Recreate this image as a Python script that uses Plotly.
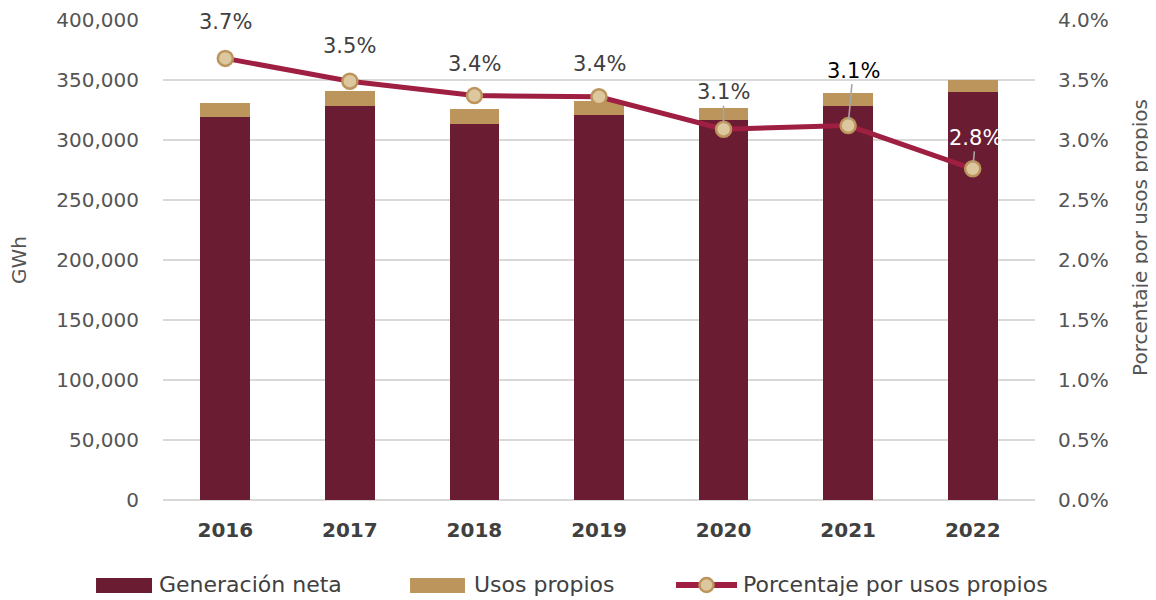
import plotly.graph_objects as go

# ---- data ----
years = ["2016", "2017", "2018", "2019", "2020", "2021", "2022"]
generacion_neta = [319000, 328600, 313600, 321000, 316700, 328000, 340000]
usos_propios = [12000, 12200, 12000, 11500, 10300, 11000, 10000]
porcentaje = [3.68, 3.49, 3.37, 3.36, 3.09, 3.12, 2.76]

series_names = ["Generación neta", "Usos propios", "Porcentaje por usos propios"]

# label styling (pixel offsets from marker, colours)
label_dx = [0, 0, 0, 0, 0, 5, 3]
label_dy = [-36, -35, -32, -33, -37, -55, -31]
label_arrow = [False, False, False, False, True, True, True]
label_color = ["#404040", "#404040", "#404040", "#404040", "#404040", "#000000", "#FFFFFF"]

FONT = "DejaVu Sans"
C_DARK = "#6A1C32"
C_TAN = "#BC955C"
C_LINE = "#9F1F42"
C_MARK = "#DDC79E"
C_TEXT = "#555555"

fig = go.Figure()
fig.add_trace(go.Bar(x=years, y=generacion_neta, name=series_names[0], showlegend=False,
                     marker=dict(color=C_DARK, line=dict(width=0))))
fig.add_trace(go.Bar(x=years, y=usos_propios, name=series_names[1], showlegend=False,
                     marker=dict(color=C_TAN, line=dict(width=0))))
fig.add_trace(go.Scatter(x=years, y=porcentaje, name=series_names[2], showlegend=False,
                         yaxis="y2", mode="lines+markers",
                         line=dict(color=C_LINE, width=5),
                         marker=dict(size=15, color=C_MARK,
                                     line=dict(color=C_TAN, width=2.5))))

annotations = []
for i, p in enumerate(porcentaje):
    txt = f"{p:.1f}%"
    if label_arrow[i]:
        annotations.append(dict(x=i, y=p, xref="x", yref="y2", text=txt,
                                showarrow=True, arrowhead=0, arrowwidth=1.6,
                                arrowcolor="#A6A6A6", ax=label_dx[i], ay=label_dy[i],
                                standoff=6,
                                font=dict(family=FONT, size=21, color=label_color[i])))
    else:
        annotations.append(dict(x=i, y=p, xref="x", yref="y2", text=txt,
                                showarrow=False, xshift=label_dx[i], yshift=-label_dy[i],
                                font=dict(family=FONT, size=21, color=label_color[i])))

# axis titles (as annotations, placed like the reference)
annotations.append(dict(x=-0.165, y=0.5, xref="paper", yref="paper", text="GWh",
                        textangle=-90, showarrow=False, xanchor="center", yanchor="middle",
                        font=dict(family=FONT, size=20, color=C_TEXT)))
annotations.append(dict(x=1.1204, y=0.548, xref="paper", yref="paper",
                        text="Porcentaje por usos propios", textangle=-90, showarrow=False,
                        xanchor="center", yanchor="middle",
                        font=dict(family=FONT, size=20, color=C_TEXT)))

# custom legend (wide swatches like the reference)
LEG_Y = -0.177
shapes = [
    dict(type="rect", xref="paper", yref="paper", x0=-0.0768, x1=-0.0126,
         y0=-0.19375, y1=-0.1625, fillcolor=C_DARK, line=dict(width=0)),
    dict(type="rect", xref="paper", yref="paper", x0=0.2833, x1=0.3463,
         y0=-0.19375, y1=-0.1625, fillcolor=C_TAN, line=dict(width=0)),
    dict(type="line", xref="paper", yref="paper", x0=0.5883, x1=0.6583,
         y0=LEG_Y, y1=LEG_Y, line=dict(color=C_LINE, width=6)),
    dict(type="circle", xref="paper", yref="paper", xsizemode="pixel", ysizemode="pixel",
         xanchor=0.6233, yanchor=LEG_Y, x0=-7, x1=7, y0=-7, y1=7,
         fillcolor=C_MARK, line=dict(color=C_TAN, width=2.5)),
]
for xpos, name in zip([-0.0069, 0.3544, 0.6628], series_names):
    annotations.append(dict(x=xpos, y=LEG_Y, xref="paper", yref="paper", text=name,
                            xanchor="left", yanchor="middle", showarrow=False,
                            font=dict(family=FONT, size=22, color="#404040")))

fig.update_layout(
    width=1156, height=600,
    # page body has an 8px margin: plot area lands at x 163-1035, y 20-500 on screen
    margin=dict(l=155, r=129, t=12, b=108, autoexpand=False),
    paper_bgcolor="white", plot_bgcolor="white",
    barmode="stack", bargap=0.6,
    font=dict(family=FONT, color=C_TEXT, size=20),
    showlegend=False,
    xaxis=dict(type="category", range=[-0.5, len(years) - 0.5], automargin=False,
               showgrid=False, showline=False, zeroline=False,
               ticks="", ticklabelstandoff=16,
               tickfont=dict(family=FONT, size=20, color="#404040", weight="bold")),
    yaxis=dict(range=[0, 400000], dtick=50000, tickformat=",", automargin=False,
               showgrid=True, gridcolor="#D9D9D9", gridwidth=2,
               zeroline=True, zerolinecolor="#D9D9D9", zerolinewidth=2,
               ticks="", ticklabelstandoff=23,
               tickfont=dict(family=FONT, size=20, color=C_TEXT)),
    yaxis2=dict(range=[0, 4], dtick=0.5, tickformat=".1f", ticksuffix="%",
                overlaying="y", side="right", showgrid=False, zeroline=False,
                automargin=False, ticks="", ticklabelstandoff=22,
                tickfont=dict(family=FONT, size=20, color=C_TEXT)),
    annotations=annotations,
    shapes=shapes,
)

fig.write_html("out.html")
